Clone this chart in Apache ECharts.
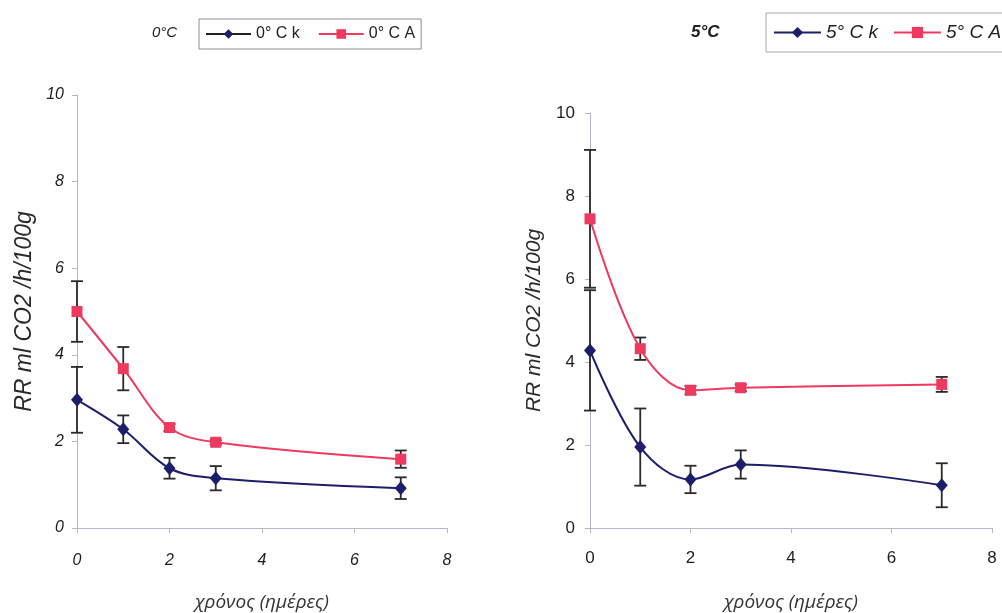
<!DOCTYPE html>
<html>
<head>
<meta charset="utf-8">
<script src="https://cdn.jsdelivr.net/npm/echarts@6/dist/echarts.min.js"></script>
<style>
  html, body { margin: 0; padding: 0; background: #fff; overflow: hidden; }
  #chart { width: 1002px; height: 613px; }
</style>
</head>
<body>
<div id="chart"></div>
<script>
// Respiration rate (ml CO2 /h/100g) over storage days, at 0°C and 5°C
const days = [0, 1, 2, 3, 7];

const k0 = [2.96, 2.28, 1.38, 1.15, 0.92];
const k0Err = [0.76, 0.32, 0.24, 0.28, 0.25];
const a0 = [5.0, 3.68, 2.32, 1.98, 1.59];
const a0Err = [0.70, 0.50, 0.08, 0.05, 0.20];

const k5 = [4.28, 1.95, 1.17, 1.53, 1.03];
const k5Err = [1.45, 0.93, 0.33, 0.34, 0.53];
const a5 = [7.45, 4.32, 3.32, 3.38, 3.46];
const a5Err = [1.66, 0.27, 0.10, 0.08, 0.18];

const yTicks = [0, 2, 4, 6, 8, 10];
const xTicks = [0, 2, 4, 6, 8];

const seriesNames = ['0° C k', '0° C A', '5° C k', '5° C A'];
const panelTitles = ['0°C', '5°C'];
const yName = 'RR ml CO2 /h/100g';
const xName = 'χρόνος (ημέρες)';

const NAVY = '#1b1f6b';
const RED = '#ee3a5e';
const AXIS = '#b4b8c4';
const FONT = '"Liberation Sans", Arial, sans-serif';

const pts = (vals) => days.map((d, i) => [d, vals[i]]);
const errs = (vals, e) => days.map((d, i) => [d, vals[i] - e[i], vals[i] + e[i]]);

function errorBars(data, xi) {
  return {
    type: 'custom',
    xAxisIndex: xi, yAxisIndex: xi,
    z: 1,
    silent: true,
    data: data,
    renderItem: function (params, api) {
      const lo = api.coord([api.value(0), api.value(1)]);
      const hi = api.coord([api.value(0), api.value(2)]);
      const w = 6;
      const st = { stroke: '#2a2a2a', lineWidth: 1.8 };
      return {
        type: 'group',
        children: [
          { type: 'line', shape: { x1: lo[0], y1: lo[1], x2: hi[0], y2: hi[1] }, style: st },
          { type: 'line', shape: { x1: lo[0] - w, y1: lo[1], x2: lo[0] + w, y2: lo[1] }, style: st },
          { type: 'line', shape: { x1: hi[0] - w, y1: hi[1], x2: hi[0] + w, y2: hi[1] }, style: st }
        ]
      };
    }
  };
}

function lineSeries(name, vals, xi, color, symbol, size) {
  return {
    name: name,
    type: 'line',
    xAxisIndex: xi, yAxisIndex: xi,
    data: pts(vals),
    smooth: 0.35,
    z: 3,
    symbol: symbol,
    symbolSize: size,
    lineStyle: { color: color, width: 2 },
    itemStyle: { color: color },
    emphasis: { disabled: true }
  };
}

function xAxis(gi, italic, labelSize, margin) {
  return {
    type: 'value', gridIndex: gi,
    min: 0, max: 8, interval: 2,
    axisLine: { lineStyle: { color: AXIS, width: 1 } },
    axisTick: { show: true, length: 5, lineStyle: { color: AXIS } },
    splitLine: { show: false },
    axisLabel: {
      margin: margin, color: '#1e1e1e', fontSize: labelSize,
      fontStyle: italic ? 'italic' : 'normal', fontFamily: FONT,
      formatter: (v) => xTicks.includes(v) ? String(v) : ''
    },
    name: xName, nameLocation: 'middle', nameGap: 65,
    nameTextStyle: { fontSize: 19, fontStyle: 'italic', color: '#333', fontFamily: '"Open Sans", sans-serif' }
  };
}

function yAxis(gi, italic, labelSize, nameSize, nameGap, margin) {
  return {
    type: 'value', gridIndex: gi,
    min: 0, max: 10, interval: 2,
    axisLine: { show: true, lineStyle: { color: AXIS, width: 1 } },
    axisTick: { show: true, length: 5, lineStyle: { color: AXIS } },
    splitLine: { show: false },
    axisLabel: {
      margin: margin, color: '#1e1e1e', fontSize: labelSize,
      fontStyle: italic ? 'italic' : 'normal', fontFamily: FONT,
      formatter: (v) => yTicks.includes(v) ? String(v) : ''
    },
    name: yName, nameLocation: 'middle', nameGap: nameGap, nameRotate: 90,
    nameTextStyle: { fontSize: nameSize, fontStyle: 'italic', color: '#2a2a2a', fontFamily: FONT }
  };
}

const chart = echarts.init(document.getElementById('chart'), null, { renderer: 'canvas' });

chart.setOption({
  animation: false,
  backgroundColor: '#ffffff',
  title: [
    { text: panelTitles[0], left: 147, top: 20,
      textStyle: { fontSize: 15, fontStyle: 'italic', fontWeight: 'normal', color: '#222', fontFamily: FONT } },
    { text: panelTitles[1], left: 686, top: 19,
      textStyle: { fontSize: 17, fontStyle: 'italic', fontWeight: 'bold', color: '#222', fontFamily: FONT } }
  ],
  legend: [
    {
      data: [
        { name: seriesNames[0], lineStyle: { color: '#222' } },
        { name: seriesNames[1] }
      ],
      orient: 'horizontal',
      left: 199, top: 19, width: 300,
      padding: [7, 6, 7, 6],
      itemWidth: 45, itemHeight: 12, itemGap: 18,
      borderColor: '#8a8e98', borderWidth: 1,
      textStyle: { fontSize: 16, color: '#222', fontFamily: FONT }
    },
    {
      data: [seriesNames[2], seriesNames[3]],
      orient: 'horizontal',
      left: 766, top: 13, width: 400,
      padding: [10, 7, 10, 7],
      itemWidth: 47, itemHeight: 14, itemGap: 15,
      borderColor: '#a4a8b2', borderWidth: 1,
      textStyle: { fontSize: 19, fontStyle: 'italic', color: '#222', fontFamily: FONT }
    }
  ],
  grid: [
    { left: 77, top: 95, width: 370, height: 433, containLabel: false, outerBoundsMode: 'none' },
    { left: 590, top: 113, width: 402, height: 415, containLabel: false, outerBoundsMode: 'none' }
  ],
  xAxis: [ xAxis(0, true, 16, 25), xAxis(1, false, 17, 22) ],
  yAxis: [ yAxis(0, true, 16, 23, 41, 13), yAxis(1, false, 17, 21, 45, 15) ],
  series: [
    errorBars(errs(k0, k0Err), 0),
    errorBars(errs(a0, a0Err), 0),
    lineSeries(seriesNames[0], k0, 0, NAVY, 'diamond', [12, 14]),
    lineSeries(seriesNames[1], a0, 0, RED, 'rect', 11),
    errorBars(errs(k5, k5Err), 1),
    errorBars(errs(a5, a5Err), 1),
    lineSeries(seriesNames[2], k5, 1, NAVY, 'diamond', [12, 14]),
    lineSeries(seriesNames[3], a5, 1, RED, 'rect', 11)
  ]
});
</script>
</body>
</html>
